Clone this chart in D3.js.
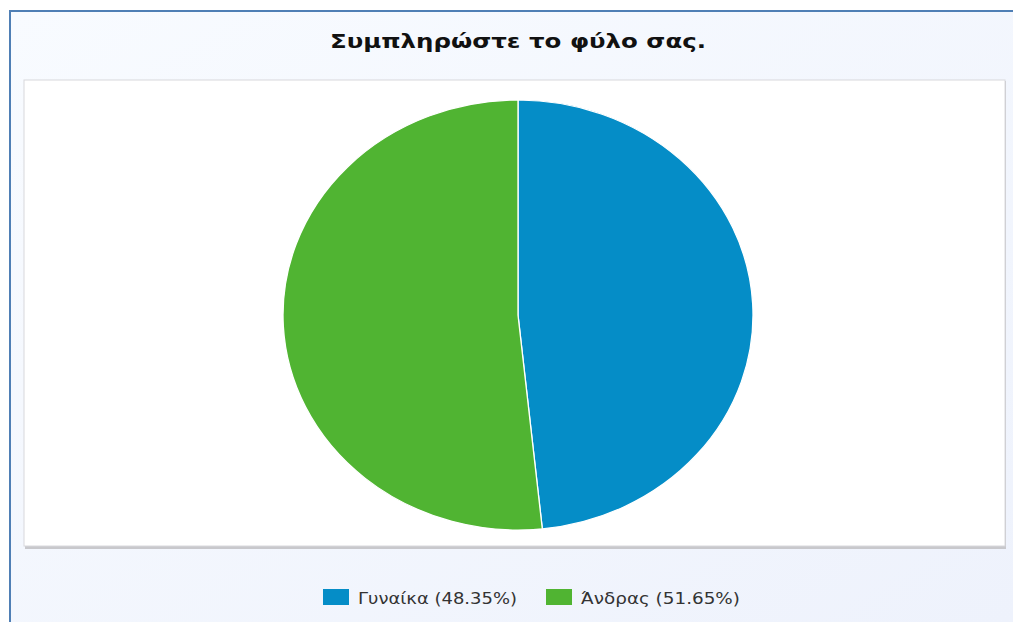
<!DOCTYPE html>
<html><head><meta charset="utf-8">
<script src="https://cdn.jsdelivr.net/npm/d3@7"></script>
<style>html,body{margin:0;padding:0;background:#fff;}svg{display:block;}</style>
</head><body>
<script>
const categories = ["Γυναίκα", "Άνδρας"];
const values = [48.35, 51.65];
const colors = ["#058dc7", "#50b432"];
const titleText = "Συμπληρώστε το φύλο σας.";

const W = 1013, H = 622;
const svg = d3.select("body").append("svg").attr("width", W).attr("height", H);

const defs = svg.append("defs");
const bg = defs.append("linearGradient").attr("id","bg").attr("x1",0).attr("y1",0).attr("x2",1).attr("y2",1);
bg.append("stop").attr("offset","0%").attr("stop-color","#f8fbff");
bg.append("stop").attr("offset","100%").attr("stop-color","#eef2fc");

// outer frame
svg.append("rect").attr("x",10).attr("y",10).attr("width",W-10).attr("height",H-10).attr("fill","url(#bg)");
svg.append("line").attr("x1",9).attr("x2",W).attr("y1",11).attr("y2",11).attr("stroke","#4f7fb5").attr("stroke-width",2);
svg.append("line").attr("x1",10).attr("x2",10).attr("y1",10).attr("y2",H).attr("stroke","#4f7fb5").attr("stroke-width",2);

// plot area
svg.append("rect").attr("x",25).attr("y",81).attr("width",981).attr("height",468).attr("fill","#c8c8cc");
svg.append("rect").attr("x",24).attr("y",80).attr("width",981).attr("height",466).attr("fill","#fff").attr("stroke","#d8d8dc").attr("stroke-width",1);

// title
svg.append("text").attr("x",518).attr("y",48).attr("text-anchor","middle")
  .attr("font-family","DejaVu Sans").attr("font-weight","bold").attr("font-size",19)
  .attr("textLength",376).attr("lengthAdjust","spacingAndGlyphs")
  .attr("fill","#111").text(titleText);

// pie
const cx = 518, cy = 315, ry = 215, rx = 235;
const pie = d3.pie().sort(null).value(d => d)(values);
const arc = d3.arc().innerRadius(0).outerRadius(ry);
const g = svg.append("g").attr("transform", `translate(${cx},${cy}) scale(${rx/ry},1)`);
g.selectAll("path").data(pie).join("path")
  .attr("d", arc).attr("fill", (d,i) => colors[i])
  .attr("stroke","#fff").attr("stroke-width",1.2);

// legend
const legendItems = [
  {x:323, tx:358, tw:159},
  {x:546, tx:581, tw:159}
];
const lg = svg.append("g");
categories.forEach((c,i) => {
  const li = legendItems[i];
  lg.append("rect").attr("x",li.x).attr("y",589).attr("width",26).attr("height",16).attr("fill",colors[i]);
  lg.append("text").attr("x",li.tx).attr("y",604)
    .attr("font-family","DejaVu Sans").attr("font-size",15)
    .attr("textLength",li.tw).attr("lengthAdjust","spacingAndGlyphs")
    .attr("fill","#333").text(`${c} (${values[i].toFixed(2)}%)`);
});
</script>
</body></html>
